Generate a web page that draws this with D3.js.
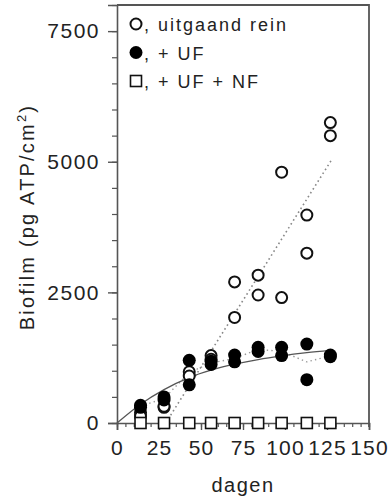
<!DOCTYPE html>
<html>
<head>
<meta charset="utf-8">
<script src="https://cdn.jsdelivr.net/npm/d3@7"></script>
<style>
  body { margin: 0; background: #fff; }
  svg { display: block; font-family: "Liberation Sans", Arial, sans-serif; }
</style>
</head>
<body>
<svg id="chart" width="390" height="502"></svg>
<script>
const days = [14, 28, 43, 56, 70, 84, 98, 113, 127];
const reinA = [200, 300, 980, 1290, 2700, 2830, 4800, 3980, 5750];
const reinB = [130, 320, 900, 1220, 2020, 2450, 2400, 3250, 5500];
const ufA = [340, 500, 1200, 1180, 1300, 1450, 1450, 1510, 1300];
const ufB = [300, 440, 730, 1120, 1170, 1370, 1290, 830, 1270];
const nf = [0, 0, 0, 0, 0, 0, 0, 0, 0];
// fitted lines, points
const reinFit = [[29, 0], [128, 5050]];
const ufFit = [[0, 0], [14, 360], [28, 640], [43, 870], [56, 1010], [70, 1125], [84, 1215], [98, 1285], [113, 1345], [127, 1390]];
const xTicks = [0, 25, 50, 75, 100, 125, 150];
const yTicks = [0, 2500, 5000, 7500];
const legend = [', uitgaand rein', ', + UF', ', + UF + NF'];

let
  svg = d3.select('#chart'),
  margin = {top: 5, right: 21, bottom: 79, left: 117},
  w = +svg.attr('width') - margin.left - margin.right,
  h = +svg.attr('height') - margin.top - margin.bottom,
  x = d3.scaleLinear().domain([0, 150]).range([0, w]),
  y = d3.scaleLinear().domain([0, 8000]).range([h, 0]),
  g = svg.append('g').attr('transform', `translate(${margin.left},${margin.top})`),
  ink = '#222',
  frame = '#555'
  ;

// minor ticks first, majors on top
g.append('g')
  .attr('transform', `translate(0,${h})`)
  .call(d3.axisBottom(x).tickValues(d3.range(0, 151, 5)).tickSize(4).tickFormat(''))
  .call(a => a.select('.domain').remove())
  .call(a => a.selectAll('line').attr('stroke', frame).attr('stroke-width', 1.2))
;
g.append('g')
  .attr('transform', `translate(0,${h})`)
  .call(d3.axisBottom(x).tickValues(xTicks).tickSize(7).tickPadding(10))
  .call(a => a.select('.domain').attr('stroke', frame).attr('stroke-width', 1.6))
  .call(a => a.selectAll('line').attr('stroke', frame).attr('stroke-width', 1.4))
  .call(a => a.selectAll('text').attr('fill', ink).attr('font-size', 21).attr('letter-spacing', 1.2).attr('font-family', null))
;
g.append('g')
  .call(d3.axisLeft(y).tickValues(d3.range(0, 8001, 500)).tickSize(5).tickFormat(''))
  .call(a => a.select('.domain').remove())
  .call(a => a.selectAll('line').attr('stroke', frame).attr('stroke-width', 1.2))
;
g.append('g')
  .call(d3.axisLeft(y).tickValues(yTicks).tickSize(9).tickPadding(8).tickFormat(d3.format('d')))
  .call(a => a.select('.domain').attr('stroke', frame).attr('stroke-width', 1.6))
  .call(a => a.selectAll('line').attr('stroke', frame).attr('stroke-width', 1.4))
  .call(a => a.selectAll('text').attr('fill', ink).attr('font-size', 21).attr('letter-spacing', 1.5).attr('font-family', null))
;
// box: top and right sides
g.append('path')
  .attr('d', `M0,0H${w}V${h + 4}`)
  .attr('fill', 'none')
  .attr('stroke', frame)
  .attr('stroke-width', 1.8)
;

const line = d3.line().x(d => x(d[0])).y(d => y(d[1]));

g.append('path')
  .datum(reinFit)
  .attr('d', line)
  .attr('fill', 'none')
  .attr('stroke', '#888')
  .attr('stroke-width', 1.6)
  .attr('stroke-dasharray', '1.6,3')
;
// dotted line through the mean of each + UF pair
g.append('path')
  .datum(days.map((d, i) => [d, (ufA[i] + ufB[i]) / 2]))
  .attr('d', line)
  .attr('fill', 'none')
  .attr('stroke', '#999')
  .attr('stroke-width', 1.4)
  .attr('stroke-dasharray', '1.4,3.2')
;
g.append('path')
  .datum(ufFit)
  .attr('d', line.curve(d3.curveMonotoneX))
  .attr('fill', 'none')
  .attr('stroke', '#555')
  .attr('stroke-width', 1.3)
;

const pts = (a, b) => days.flatMap((d, i) => [[d, a[i]], [d, b[i]]]);

g.selectAll('.rein')
  .data(pts(reinA, reinB))
  .join('circle')
  .attr('class', 'rein')
  .attr('cx', d => x(d[0]))
  .attr('cy', d => y(d[1]))
  .attr('r', 5.5)
  .attr('fill', '#fff')
  .attr('stroke', '#111')
  .attr('stroke-width', 2)
;
g.selectAll('.uf')
  .data(pts(ufA, ufB))
  .join('circle')
  .attr('class', 'uf')
  .attr('cx', d => x(d[0]))
  .attr('cy', d => y(d[1]))
  .attr('r', 6.5)
  .attr('fill', '#000')
;
g.selectAll('.nf')
  .data(days.map((d, i) => [d, nf[i]]))
  .join('rect')
  .attr('class', 'nf')
  .attr('x', d => x(d[0]) - 5.5)
  .attr('y', d => y(d[1]) - 5.5)
  .attr('width', 11)
  .attr('height', 11)
  .attr('fill', '#fff')
  .attr('stroke', '#111')
  .attr('stroke-width', 1.6)
;

// legend
let lg = g.append('g').attr('transform', 'translate(19,19)');
lg.append('circle').attr('cx', 0).attr('cy', 0).attr('r', 5.5).attr('fill', '#fff').attr('stroke', '#111').attr('stroke-width', 2);
lg.append('circle').attr('cx', 0).attr('cy', 28.5).attr('r', 6.5).attr('fill', '#000');
lg.append('rect').attr('x', -5.5).attr('y', 51.5).attr('width', 11).attr('height', 11).attr('fill', '#fff').attr('stroke', '#111').attr('stroke-width', 1.6);
lg.selectAll('text')
  .data(legend)
  .join('text')
  .attr('x', 8)
  .attr('y', (d, i) => i * 28.5 + 7)
  .attr('fill', ink)
  .attr('font-size', 18)
  .attr('letter-spacing', 2)
  .attr('xml:space', 'preserve')
  .text(d => d)
;

// axis titles
svg.append('text')
  .attr('x', margin.left + x(75))
  .attr('y', 492)
  .attr('text-anchor', 'middle')
  .attr('fill', ink)
  .attr('font-size', 20)
  .attr('letter-spacing', 1.5)
  .text('dagen')
;
let yt = svg.append('text')
  .attr('transform', 'translate(34,217) rotate(-90)')
  .attr('text-anchor', 'middle')
  .attr('fill', ink)
  .attr('font-size', 20)
  .attr('letter-spacing', 2.2)
  ;
yt.append('tspan').text('Biofilm (pg ATP/cm');
yt.append('tspan').attr('font-size', 13).attr('dy', -8).text('2');
yt.append('tspan').attr('dy', 8).text(')');
</script>
</body>
</html>
